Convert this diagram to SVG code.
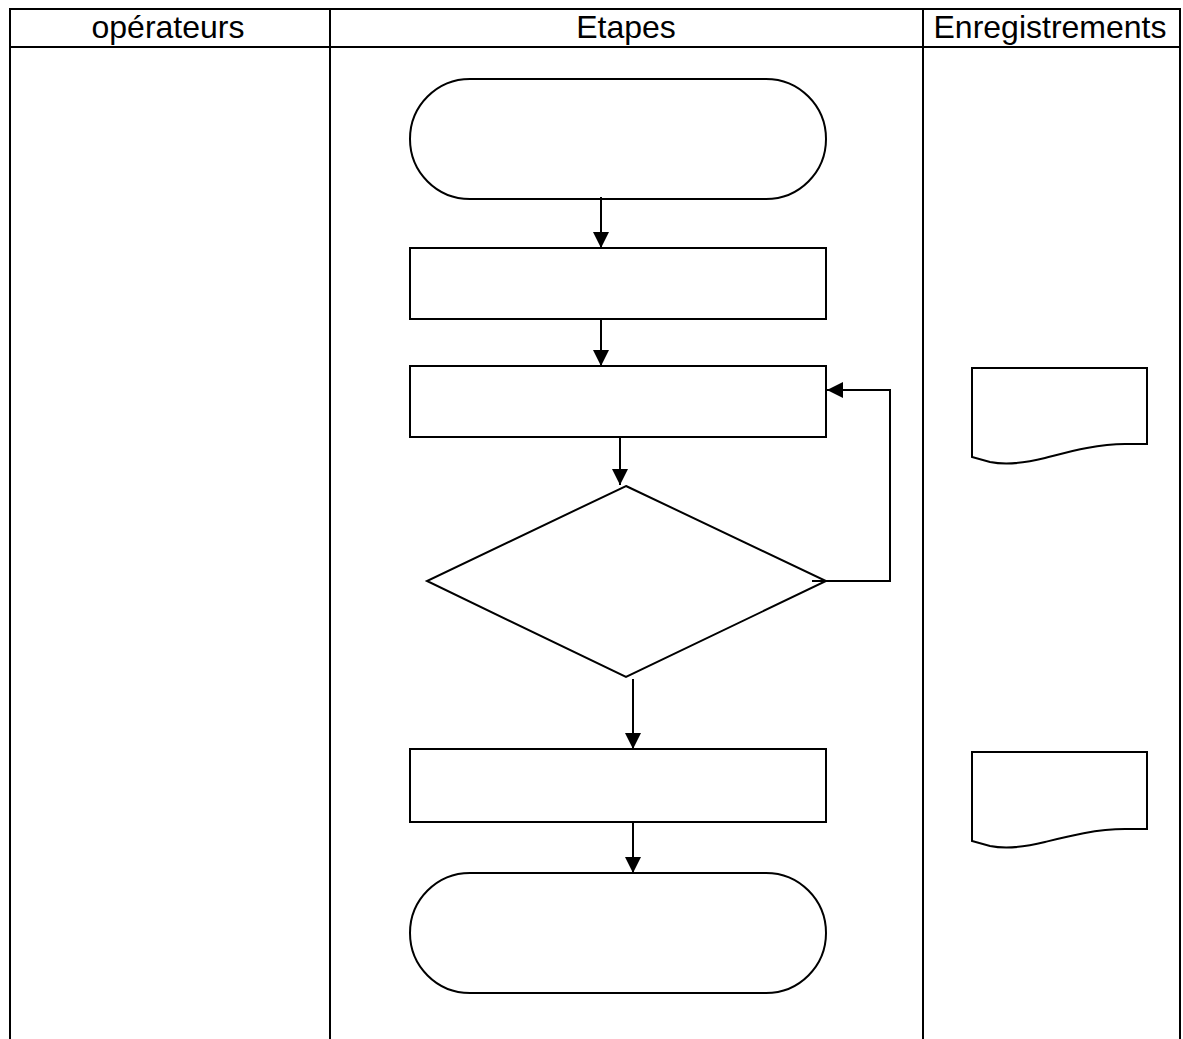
<svg xmlns="http://www.w3.org/2000/svg" width="1183" height="1039" viewBox="0 0 1183 1039">
<style>
.grid{stroke:#000;stroke-width:2;fill:none}
.shape{stroke:#000;stroke-width:2;fill:#fff}
.conn{stroke:#000;stroke-width:2;fill:none}
.hdr{font-family:"Liberation Sans",Arial,sans-serif;font-size:32px;fill:#000;text-anchor:middle}
</style>
<defs>
<marker id="arr" markerUnits="userSpaceOnUse" markerWidth="17" markerHeight="17" refX="16" refY="8" orient="auto">
<path d="M0,0 L16,8 L0,16 Z" fill="#000"/>
</marker>
</defs>
<rect width="1183" height="1039" fill="#fff"/>
<g id="table">
<path class="grid" d="M10,1039 V9 H1180 V1039 M10,47 H1180 M330,9 V1039 M923,9 V1039"/>
<text class="hdr" x="168" y="38">opérateurs</text>
<text class="hdr" x="626" y="38">Etapes</text>
<text class="hdr" x="1050" y="38">Enregistrements</text>
</g>
<g id="start"><rect class="shape" x="410" y="79" width="416" height="120" rx="60" ry="60"/></g>
<g id="step1"><rect class="shape" x="410" y="248" width="416" height="71"/></g>
<g id="step2"><rect class="shape" x="410" y="366" width="416" height="71"/></g>
<g id="decision"><polygon class="shape" points="626,486 826,581 626,677 427,581"/></g>
<g id="step3"><rect class="shape" x="410" y="749" width="416" height="73"/></g>
<g id="end"><rect class="shape" x="410" y="873" width="416" height="120" rx="60" ry="60"/></g>
<g id="doc1"><path class="shape" d="M972,368 H1147 V444 H1125 C1095,444 1065,453 1045,458 C1025,463 1005,465 990,462 L972,457 Z"/></g>
<g id="doc2"><path class="shape" d="M972,752 H1147 V829 H1125 C1095,829 1065,837 1045,842 C1025,847 1005,849 990,846 L972,841 Z"/></g>
<g id="connectors">
<path class="conn" d="M601,197 V248" marker-end="url(#arr)"/>
<path class="conn" d="M601,319 V366" marker-end="url(#arr)"/>
<path class="conn" d="M620,437 V485" marker-end="url(#arr)"/>
<path class="conn" d="M633,679 V749" marker-end="url(#arr)"/>
<path class="conn" d="M633,822 V873" marker-end="url(#arr)"/>
<path class="conn" d="M812,581 H890 V390 H827" marker-end="url(#arr)"/>
</g>
</svg>
